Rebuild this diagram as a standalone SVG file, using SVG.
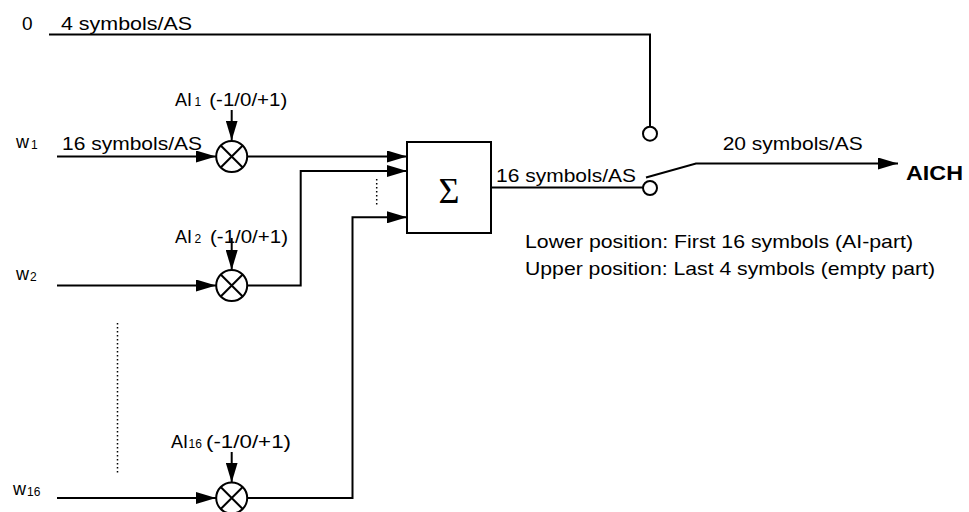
<svg xmlns="http://www.w3.org/2000/svg" width="969" height="512" viewBox="0 0 969 512">
<style>
  text { font-family: "Liberation Sans", Arial, sans-serif; fill: #000; }
  .t { font-size: 19px; }
  .ai { font-size: 18px; }
  .w { font-size: 18px; }
  .sub { font-size: 12px; }
  .ln { fill: none; stroke: #000; stroke-width: 2; }
  .dot { fill: none; stroke: #000; stroke-width: 1.5; stroke-dasharray: 1.5 2.5; }
  .mul circle { fill: #fff; stroke: #000; stroke-width: 2; }
  .mul path { stroke: #000; stroke-width: 2; fill: none; }
  .sw { fill: #fff; stroke: #000; stroke-width: 2; }
</style>
<defs>
  <marker id="ah" markerUnits="userSpaceOnUse" markerWidth="20" markerHeight="12" refX="20" refY="6" orient="auto">
    <path d="M0,0 L20,6 L0,12 z" fill="#000"/>
  </marker>
</defs>

<g id="connectors">
  <path class="ln" d="M49,34.5 H650 V126.5"/>
  <path class="ln" d="M57,156.5 H216" marker-end="url(#ah)"/>
  <path class="ln" d="M247,156.5 H407" marker-end="url(#ah)"/>
  <path class="ln" d="M57,285.5 H216" marker-end="url(#ah)"/>
  <path class="ln" d="M247,285.5 H300.7 V171 H407" marker-end="url(#ah)"/>
  <path class="ln" d="M57,498 H216" marker-end="url(#ah)"/>
  <path class="ln" d="M247,498 H352.5 V217.3 H407" marker-end="url(#ah)"/>
  <path class="ln" d="M231.7,110 V140.5" marker-end="url(#ah)"/>
  <path class="ln" d="M231.7,238 V270" marker-end="url(#ah)"/>
  <path class="ln" d="M231.7,452 V482.5" marker-end="url(#ah)"/>
  <path class="ln" d="M491,187.5 H643"/>
  <path class="ln" d="M646,177.5 L696,163.5 H898" marker-end="url(#ah)"/>
  <path class="dot" d="M376.7,179 V207"/>
  <path class="dot" d="M117.5,323 V474"/>
</g>

<g id="input-0">
  <text class="t" x="22" y="30">0</text>
  <text class="t" x="61" y="30" textLength="131" lengthAdjust="spacingAndGlyphs">4 symbols/AS</text>
</g>

<g id="input-w1">
  <text class="w" x="16" y="148">w<tspan class="sub" x="31" dy="1">1</tspan></text>
  <text class="t" x="62" y="150" textLength="140" lengthAdjust="spacingAndGlyphs">16 symbols/AS</text>
</g>
<g id="input-w2">
  <text class="w" x="16" y="280">w<tspan class="sub" x="30" dy="1">2</tspan></text>
</g>
<g id="input-w16">
  <text class="w" x="13" y="495">w<tspan class="sub" x="27" dy="1">16</tspan></text>
</g>

<g id="mult1" class="mul">
  <circle cx="231.7" cy="156.5" r="15.5"/>
  <path d="M220.7,145.5 L242.7,167.5 M242.7,145.5 L220.7,167.5"/>
  <text class="ai" x="175" y="106">AI<tspan class="sub" x="194.5">1</tspan><tspan x="209.3" textLength="78" lengthAdjust="spacingAndGlyphs">(-1/0/+1)</tspan></text>
</g>
<g id="mult2" class="mul">
  <circle cx="231.7" cy="285.5" r="15.5"/>
  <path d="M220.7,274.5 L242.7,296.5 M242.7,274.5 L220.7,296.5"/>
  <text class="ai" x="175" y="243">AI<tspan class="sub" x="194.5">2</tspan><tspan x="210" textLength="78" lengthAdjust="spacingAndGlyphs">(-1/0/+1)</tspan></text>
</g>
<g id="mult16" class="mul">
  <circle cx="231.7" cy="498" r="15.5"/>
  <path d="M220.7,487 L242.7,509 M242.7,487 L220.7,509"/>
  <text class="ai" x="171" y="448">AI<tspan class="sub" x="188.5">16</tspan><tspan x="206" textLength="85" lengthAdjust="spacingAndGlyphs">(-1/0/+1)</tspan></text>
</g>

<g id="sum">
  <rect x="407" y="142" width="84" height="91" fill="#fff" stroke="#000" stroke-width="2"/>
  <text x="449" y="203" text-anchor="middle" style="font-family:'Liberation Serif','Times New Roman',serif;font-size:36px;">Σ</text>
</g>

<g id="sum-output-label">
  <text class="t" x="496" y="181.5" textLength="140" lengthAdjust="spacingAndGlyphs">16 symbols/AS</text>
</g>

<g id="switch">
  <circle class="sw" cx="650" cy="133.7" r="7"/>
  <circle class="sw" cx="650" cy="188" r="7"/>
  <text class="t" x="525" y="248" textLength="388" lengthAdjust="spacingAndGlyphs">Lower position: First 16 symbols (AI-part)</text>
  <text class="t" x="525" y="275" textLength="410" lengthAdjust="spacingAndGlyphs">Upper position: Last 4 symbols (empty part)</text>
</g>

<g id="aich">
  <text class="t" x="722.7" y="150" textLength="140" lengthAdjust="spacingAndGlyphs">20 symbols/AS</text>
  <text x="906" y="180" textLength="57" lengthAdjust="spacingAndGlyphs" style="font-size:21px;font-weight:bold;">AICH</text>
</g>
</svg>
